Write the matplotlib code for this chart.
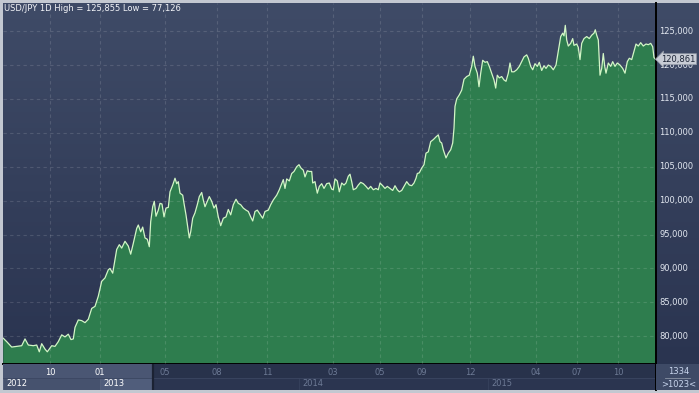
import numpy as np
import matplotlib
matplotlib.use('Agg')
from matplotlib import pyplot as plt
from matplotlib.colors import LinearSegmentedColormap
from matplotlib.patches import Rectangle

# USD/JPY daily close (x = bar position on the session axis)
# =============================================================================
day_1 = [3.3, 6.7, 11.7, 16.7, 21.7, 25.0, 28.3, 33.3, 36.7, 39.3,
         41.7, 45.0, 47.3, 51.7, 55.0, 58.3, 61.7, 65.0, 68.3, 71.0,
         73.3, 75.0, 78.3, 81.7, 85.0, 88.3, 91.7, 95.0, 98.3, 101.7,
         105.0, 108.3, 110.0, 112.7, 115.0]
rate_1 = [79.7, 79.2, 78.4, 78.5, 78.6, 79.6, 78.7, 78.6, 78.7, 77.7,
          78.9, 78.1, 77.7, 78.6, 78.5, 79.2, 80.2, 79.9, 80.3, 79.5,
          79.6, 81.3, 82.4, 82.3, 82.0, 82.5, 84.1, 84.4, 85.9, 88.1,
          88.6, 89.8, 90.0, 89.3, 91.3]

day_2 = [116.7, 119.3, 121.7, 125.0, 128.3, 130.7, 133.3, 136.7, 138.3, 140.7,
         142.7, 145.0, 147.3, 149.3, 150.7, 152.7, 154.3, 156.0, 158.3, 160.0,
         162.0, 164.0, 166.0, 168.3, 170.0, 172.7, 175.0, 176.7, 178.3, 180.0,
         182.7, 184.0, 186.0, 187.7, 189.3, 190.7, 192.7, 195.0, 197.3, 199.3,
         201.7, 203.3, 205.0, 207.3, 209.3, 211.7, 214.0, 216.0, 218.3, 220.7,
         223.3, 226.0, 228.3, 230.7, 233.3, 236.0, 238.3, 240.7, 243.3, 246.0,
         248.3, 250.7, 252.7, 255.0, 257.3, 260.0, 262.7, 265.0, 268.3, 270.7,
         273.3, 276.7, 279.3]
rate_2 = [92.8, 93.5, 93.0, 94.0, 93.3, 92.1, 93.7, 95.9, 96.4, 95.4,
          96.1, 94.5, 94.3, 93.2, 96.9, 99.1, 99.9, 97.7, 98.6, 99.6,
          99.5, 97.6, 98.9, 99.0, 101.3, 102.3, 103.3, 102.5, 102.8, 101.1,
          100.8, 99.6, 97.9, 96.2, 94.5, 95.4, 97.4, 98.2, 99.4, 100.6,
          101.2, 100.1, 99.1, 99.9, 100.6, 99.9, 98.9, 99.4, 97.6, 96.3,
          97.4, 97.6, 98.7, 97.9, 99.4, 100.2, 99.6, 99.4, 98.9, 98.6,
          98.4, 97.6, 97.0, 98.4, 98.6, 98.0, 97.4, 98.4, 98.6, 99.4,
          100.1, 100.8, 101.6]

day_3 = [283.3, 285.0, 286.7, 289.3, 291.7, 294.0, 296.7, 299.0, 301.0, 303.3,
         305.0, 307.3, 309.3, 311.7, 312.7, 315.0, 317.3, 319.3, 321.7, 324.0,
         326.7, 329.3, 331.7, 333.3, 335.0, 337.3, 339.3, 341.7, 344.0, 346.0,
         348.3, 350.0, 351.7, 353.3, 356.0, 358.3, 360.7, 363.3, 366.0, 368.3,
         370.7, 373.3, 376.0, 378.3, 380.0, 382.7, 385.0, 387.3, 390.0, 392.7,
         395.0, 397.3, 399.3, 401.7, 404.0, 406.7, 409.3, 411.7, 414.0, 416.0,
         417.3, 419.3]
rate_3 = [103.1, 101.8, 103.2, 102.9, 104.0, 104.3, 105.0, 105.3, 104.8, 104.5,
          103.5, 104.4, 104.3, 104.3, 102.6, 102.8, 101.1, 102.1, 102.5, 101.8,
          102.5, 102.6, 101.7, 101.6, 103.2, 102.9, 101.3, 102.6, 102.3, 102.6,
          103.6, 103.9, 102.8, 101.6, 101.8, 102.3, 102.7, 102.5, 102.1, 101.7,
          102.1, 101.6, 101.8, 101.6, 102.6, 102.2, 101.8, 102.1, 101.8, 101.5,
          102.2, 101.6, 101.3, 101.5, 102.1, 102.8, 102.3, 102.2, 102.6, 103.3,
          104.0, 104.1]

day_4 = [421.7, 424.0, 426.0, 428.3, 430.7, 433.3, 436.0, 438.3, 440.0, 441.7,
         443.3, 446.0, 448.3, 450.7, 452.7, 454.0]
rate_4 = [104.8, 105.3, 107.0, 107.2, 108.7, 109.0, 109.4, 109.7, 108.7, 108.5,
          107.5, 106.3, 107.0, 107.5, 108.5, 110.7]

day_5 = [455.0, 456.7, 459.3, 461.7, 464.0, 466.7, 469.3, 471.7, 473.3, 475.0,
         477.3, 479.0, 480.7, 482.7, 485.0, 487.3, 489.3, 491.7, 494.0, 495.7,
         497.3, 499.3, 501.7, 504.0, 506.0, 508.3, 510.0, 511.7, 514.0, 516.7,
         519.3, 521.7, 524.0, 526.7, 528.3, 530.7, 532.7, 535.0, 537.3, 539.3,
         541.7, 544.0, 546.0, 548.3, 550.7, 553.3, 556.0, 557.7, 559.3, 560.7,
         562.7, 564.0, 565.3, 566.7, 568.3, 570.7, 572.7, 574.0, 576.7, 578.3,
         580.0, 581.7, 584.0, 586.7, 589.3, 591.7, 594.0, 595.3, 596.7, 598.3,
         600.0, 601.7, 603.3, 604.7, 606.0, 608.3, 610.7, 612.7, 615.0, 617.3,
         620.0, 622.7, 625.0, 627.3, 629.3, 631.7, 634.0, 636.0, 638.3, 640.7,
         643.3, 646.0, 648.3, 650.7, 652.7, 654.0, 655.5]
rate_5 = [113.9, 115.0, 115.6, 116.3, 117.9, 118.3, 118.5, 119.8, 121.3, 119.8,
          118.8, 116.8, 118.8, 120.7, 120.4, 120.5, 119.8, 118.8, 117.8, 116.6,
          118.5, 118.1, 118.3, 117.8, 117.6, 118.8, 120.3, 119.0, 119.0, 119.3,
          119.8, 120.5, 121.2, 121.5, 121.0, 119.8, 119.3, 120.2, 119.8, 120.4,
          119.2, 119.9, 119.5, 120.0, 119.8, 119.3, 120.0, 121.5, 123.0, 124.2,
          124.7, 124.3, 125.855, 123.7, 122.8, 123.2, 123.9, 122.9, 123.1, 122.6,
          120.8, 123.2, 123.9, 124.2, 123.9, 124.4, 124.7, 125.2, 124.4, 123.7,
          118.5, 119.5, 121.7, 119.8, 118.8, 120.3, 119.8, 120.5, 119.8, 120.3,
          120.0, 119.5, 118.8, 120.5, 121.0, 120.8, 122.0, 123.1, 122.8, 123.3,
          122.8, 123.1, 123.0, 123.2, 122.7, 121.1, 120.861]

price_ticks = [80, 85, 90, 95, 100, 105, 110, 115, 120, 125]
month_pos = [50, 100, 165, 216.5, 267, 332.5, 379.5, 421.7, 470, 535.7, 576.7, 618.3]
month_lab = ['10', '01', '05', '08', '11', '03', '05', '09', '12', '04', '07', '10']
year_start = [3, 100, 299, 488]
year_lab = ['2012', '2013', '2014', '2015']
view_start = 153  # everything left of this is the highlighted part of the timeline
bars_total = '1334'
bars_shown = '>1023<'
title = 'USD/JPY 1D High = 125,855 Low = 77,126'

day = np.array(day_1 + day_2 + day_3 + day_4 + day_5)
usdjpy = np.array(rate_1 + rate_2 + rate_3 + rate_4 + rate_5)

def fmt(v):
    return '{:.3f}'.format(v).replace('.', ',')

#%% figure layout (pixel boxes)
W, H = 699, 393
plt.rcParams['font.family'] = 'DejaVu Sans'
fig = plt.figure(figsize=(W / 100, H / 100), dpi=100, facecolor='#c3c8d1')

def box(x0, y0, x1, y1):
    return [x0 / W, 1 - y1 / H, (x1 - x0) / W, (y1 - y0) / H]

# gradient background behind plot + price scale
bg = fig.add_axes(box(3, 3, 699, 364))
grad = np.linspace(0, 1, 256).reshape(-1, 1)
cmap = LinearSegmentedColormap.from_list('bg', ['#3f4b67', '#2a3450'])
bg.imshow(grad, aspect='auto', cmap=cmap, extent=[0, 1, 0, 1])
bg.axis('off')

#%% main area chart
ax = fig.add_axes(box(3, 3, 656, 364))
ax.set_facecolor('none')
ax.fill_between(day, usdjpy, 0, color='#2e7d4e', lw=0, zorder=1)
ax.plot(day, usdjpy, color='#d2f6c6', lw=0.9, zorder=2)
ax.set_xlim(3, 656)
ax.set_ylim(75.9, 129.15)
ax.set_xticks(month_pos)
ax.set_yticks(price_ticks)
ax.set_axisbelow(False)
ax.grid(True, color='white', alpha=0.13, lw=0.8, ls=(0, (3, 3)))
ax.tick_params(length=0, labelleft=False, labelbottom=False)
for s in ['top', 'left']:
    ax.spines[s].set_visible(False)
for s in ['bottom', 'right']:
    ax.spines[s].set_color('black')
    ax.spines[s].set_linewidth(1.4)

ax.text(1 / 653, 1 - 1 / 361, title, transform=ax.transAxes, ha='left', va='top',
        fontsize=6, color='#f2f4f8')

# price scale on the right
axr = fig.add_axes(box(656, 3, 699, 364), sharey=ax)
axr.set_facecolor('none')
axr.axis('off')
ytr = axr.get_yaxis_transform()
for v in price_ticks:
    axr.text(0.08, v, fmt(v), transform=ytr, ha='left', va='center',
             fontsize=6, color='#e2e7f0', zorder=3)
axr.text(0.12, usdjpy[-1], fmt(usdjpy[-1]), transform=ytr, ha='left', va='center',
         fontsize=6, color='#1c2436', zorder=5,
         bbox=dict(boxstyle='larrow,pad=0.12', fc='#c8ccd5', ec='#8f96a3', lw=0.5))

#%% time axis
axb = fig.add_axes(box(3, 364, 656, 390), sharex=ax)
axb.set_ylim(0, 2)
axb.set_facecolor('#28324b')
axb.tick_params(left=False, bottom=False, labelleft=False, labelbottom=False)
for s in ['top', 'left', 'bottom']:
    axb.spines[s].set_visible(False)
axb.spines['right'].set_color('black')
axb.spines['right'].set_linewidth(1.4)

row = 0.92
ends = year_start[1:] + [656]
for x0, x1 in zip(year_start, ends):
    axb.add_patch(Rectangle((x0, 0), x1 - x0, row, fc='#2b3550', ec='#36415c', lw=0.6))
axb.add_patch(Rectangle((3, row), view_start - 3, 2 - row, fc='#4a5673', lw=0))
axb.add_patch(Rectangle((year_start[0], 0), year_start[1] - year_start[0], row,
                        fc='#46526e', ec='#56627e', lw=0.6))
axb.add_patch(Rectangle((year_start[1], 0), view_start - year_start[1], row,
                        fc='#505d7b', ec='#56627e', lw=0.6))
axb.axhline(row, color='#3a4560', lw=0.6)
axb.axvline(view_start, color='#1b2233', lw=1.6)

for p, lab in zip(month_pos, month_lab):
    c = 'white' if p < view_start else '#6d7a95'
    axb.text(p, 1.33, lab, ha='center', va='center', fontsize=6, color=c)
for p, lab in zip(year_start, year_lab):
    c = 'white' if p < view_start else '#6d7a95'
    axb.text(p + 3.7, 0.5, lab, ha='left', va='center', fontsize=6, color=c)

# bar counter box
axc = fig.add_axes(box(656, 364, 699, 390))
axc.set_facecolor('#3e4a66')
axc.set_xlim(0, 1)
axc.set_ylim(0, 1)
axc.tick_params(left=False, bottom=False, labelleft=False, labelbottom=False)
for s in axc.spines.values():
    s.set_visible(False)
axc.text(0.52, 0.70, bars_total, ha='center', va='center', fontsize=6, color='#c9d6ee')
axc.axhline(0.47, 0.2, 0.8, color='#8a93a5', lw=0.6)
axc.text(0.52, 0.23, bars_shown, ha='center', va='center', fontsize=6, color='#c9d6ee')

fig.savefig('out.png', dpi=100, facecolor=fig.get_facecolor())
